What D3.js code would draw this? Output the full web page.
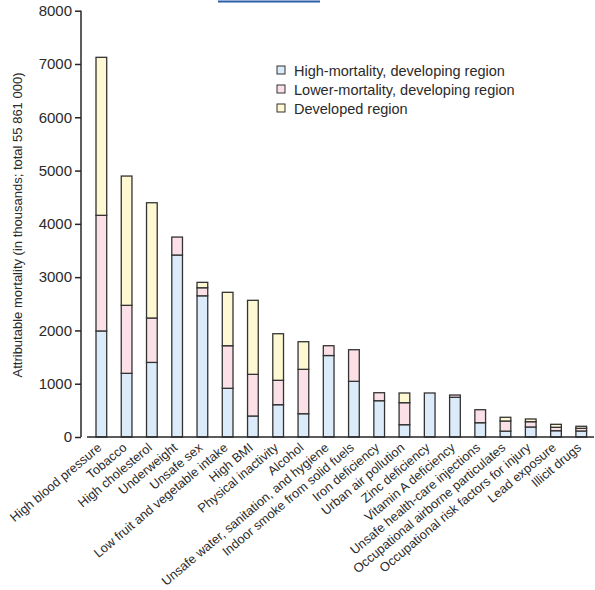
<!DOCTYPE html>
<html>
<head>
<meta charset="utf-8">
<script src="https://cdn.jsdelivr.net/npm/d3@7"></script>
<style>
  html, body { margin: 0; padding: 0; background: #fff; }
  svg { display: block; font-family: "Liberation Sans", Arial, sans-serif; }
</style>
</head>
<body>
<svg id="chart" width="595" height="590"></svg>
<script>
// Risk factors, ordered by total attributable deaths (thousands)
const categories = [
  "High blood pressure", "Tobacco", "High cholesterol", "Underweight", "Unsafe sex",
  "Low fruit and vegetable intake", "High BMI", "Physical inactivity", "Alcohol",
  "Unsafe water, sanitation, and hygiene", "Indoor smoke from solid fuels",
  "Iron deficiency", "Urban air pollution", "Zinc deficiency", "Vitamin A deficiency",
  "Unsafe health-care injections", "Occupational airborne particulates",
  "Occupational risk factors for injury", "Lead exposure", "Illicit drugs"
];

// Deaths by region group (thousands)
const highMortality  = [1990, 1195, 1400, 3415, 2650, 914, 394, 606, 437, 1529, 1045, 681, 231, 826, 745, 268, 110, 188, 118, 113];
const lowerMortality = [2170, 1276, 833, 337, 151, 799, 782, 458, 833, 184, 593, 150, 413, 0, 43, 244, 190, 99, 64, 50];
const developed      = [2965, 2426, 2163, 0, 101, 1002, 1389, 874, 518, 0, 0, 0, 182, 0, 0, 0, 70, 51, 56, 38];

const seriesNames = ["High-mortality, developing region", "Lower-mortality, developing region", "Developed region"];
const seriesColors = ["#dbebf9", "#fbe1e7", "#fef9d2"];
const yTicks = [0, 1000, 2000, 3000, 4000, 5000, 6000, 7000, 8000];
const yLabel = "Attributable mortality (in thousands; total 55 861 000)";

const svg = d3.select("#chart");
const ink = "#262626";

const rows = categories.map((c, i) => ({
  cat: c, s0: highMortality[i], s1: lowerMortality[i], s2: developed[i]
}));
const stack = d3.stack().keys(["s0", "s1", "s2"])(rows);

const x = d3.scaleBand().domain(categories).range([96, 586.6]).paddingInner(0.576).paddingOuter(0);
const y = d3.scaleLinear().domain([0, 8000]).range([437, 10.7]);

// thin rule along the top edge
svg.append("line")
  .attr("x1", 218).attr("x2", 320).attr("y1", 1.5).attr("y2", 1.5)
  .attr("stroke", "#2a5ea8").attr("stroke-width", 2);

// stacked bars
svg.append("g").selectAll("g")
  .data(stack).join("g")
  .attr("fill", (d, i) => seriesColors[i])
  .selectAll("rect")
  .data(d => d.filter(p => p[1] - p[0] > 0))
  .join("rect")
  .attr("x", d => x(d.data.cat))
  .attr("width", x.bandwidth())
  .attr("y", d => y(d[1]))
  .attr("height", d => y(d[0]) - y(d[1]))
  .attr("stroke", "#333")
  .attr("stroke-width", 1.3);

// y axis
const yAxis = svg.append("g")
  .attr("transform", "translate(81,0)")
  .call(d3.axisLeft(y).tickValues(yTicks).tickSize(6).tickPadding(3).tickFormat(d3.format("d")));
yAxis.select(".domain").attr("stroke", ink).attr("stroke-width", 1.5).attr("d", `M0,${y(8000)}V${y(0)}`);
yAxis.selectAll(".tick line").attr("stroke", ink).attr("stroke-width", 1.5);
yAxis.selectAll("text").attr("font-size", 15).attr("fill", "#2a2a2a")
  .style("font-family", "'Liberation Sans', Arial, sans-serif");

// x baseline
svg.append("line")
  .attr("x1", 87).attr("x2", 594).attr("y1", y(0)).attr("y2", y(0))
  .attr("stroke", ink).attr("stroke-width", 1.5);

// category labels
svg.append("g").selectAll("text")
  .data(categories).join("text")
  .attr("transform", d => `translate(${x(d) + x.bandwidth() / 2 + 1},${y(0) + 12}) rotate(-40)`)
  .attr("text-anchor", "end")
  .attr("font-size", 12.8)
  .attr("fill", "#2a2a2a")
  .text(d => d);

// y axis title
svg.append("text")
  .attr("transform", `translate(22,225) rotate(-90)`)
  .attr("text-anchor", "middle")
  .attr("font-size", 13)
  .attr("fill", "#2a2a2a")
  .text(yLabel);

// legend
const legend = svg.append("g").attr("transform", "translate(277,66)");
seriesNames.forEach((name, i) => {
  const g = legend.append("g").attr("transform", `translate(0,${i * 19})`);
  g.append("rect").attr("x", 0).attr("y", 0).attr("width", 8).attr("height", 8)
    .attr("fill", seriesColors[i]).attr("stroke", "#333").attr("stroke-width", 1);
  g.append("text").attr("x", 17).attr("y", 10)
    .attr("font-size", 14.5).attr("fill", "#2a2a2a").text(name);
});
</script>
</body>
</html>
